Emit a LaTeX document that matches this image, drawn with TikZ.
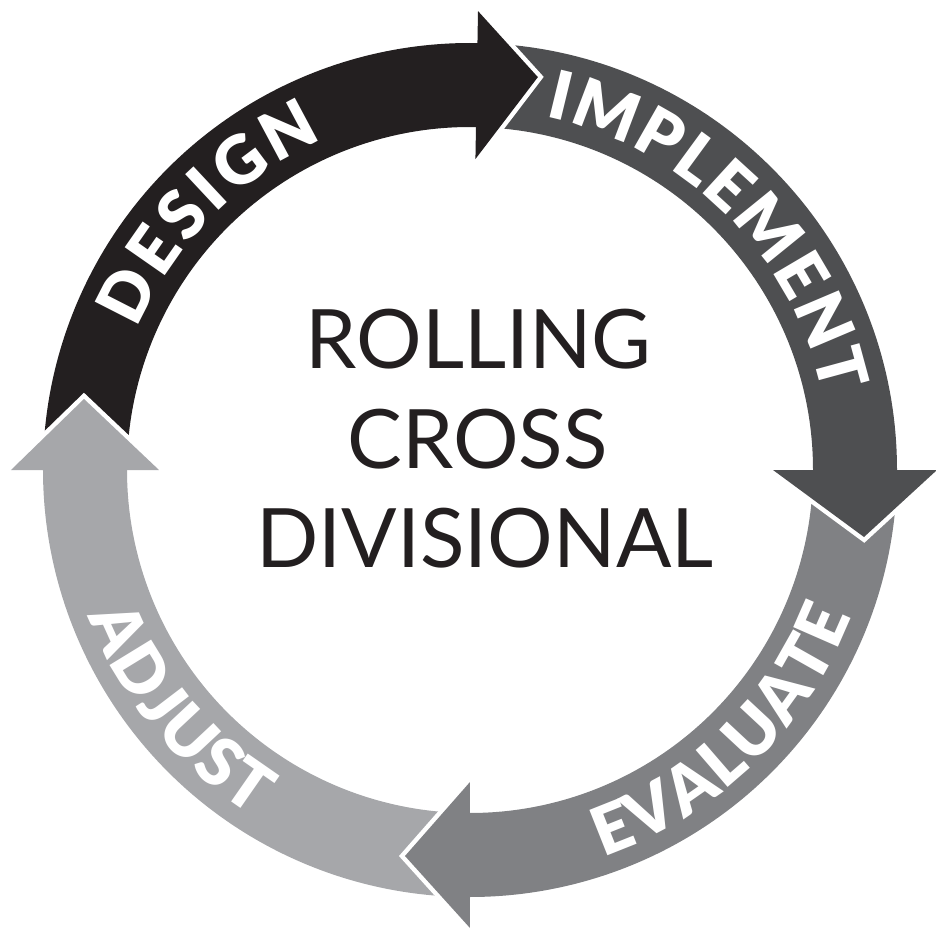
\documentclass[tikz,border=0pt]{standalone}
\usepackage{fontspec}
\usetikzlibrary{calc,decorations.text}
\newfontfamily\ringfont{Lato Black}
\newfontfamily\titlefont{Lato}
\definecolor{designgrey}{HTML}{231F20}
\definecolor{implementgrey}{HTML}{4E4F51}
\definecolor{evaluategrey}{HTML}{808184}
\definecolor{adjustgrey}{HTML}{A6A7AA}

\begin{document}
\begin{tikzpicture}[x=1pt,y=1pt,
  title/.style={text=designgrey,font=\titlefont\fontsize{82}{82}\selectfont,inner sep=0pt,anchor=base},
  ringword/.style={decorate,decoration={text along path,text align={fit to path},text color=white,text={#1}}}]
\useasboundingbox (-470,-473) rectangle (466,470);
% ring
\foreach \col/\base/\prev in {adjustgrey/180/270, designgrey/89/180, implementgrey/0/89, evaluategrey/-90/0}
  \fill[\col] (\prev-1:427) arc[start angle=\prev-1,end angle=\base-2,radius=427]
    -- (\base-2:343) arc[start angle=\base-2,end angle=\prev-1,radius=343] -- cycle;
% heads
\foreach \col/\base/\wd/\len/\off in {designgrey/89/74/61/9, implementgrey/0/82/67/9, evaluategrey/-90/73/65/1, adjustgrey/180/74/71/1} {
  \coordinate (wout) at (\base:385+\wd);
  \coordinate (win) at (\base:385-\wd);
  \coordinate (tip) at ($(\base:385+\off)+(\base-90:\len)$);
  \draw[white,line width=9pt,line join=miter] (wout) -- (tip) -- (win);
  \fill[\col] (wout) -- (tip) -- (win) -- cycle;
}
% words on the ring
\path[ringword={|\ringfont\fontsize{67}{67}\selectfont|DESIGN}] (157:361) arc[start angle=157,end angle=114,radius=361];
\path[ringword={|\ringfont\fontsize{67}{67}\selectfont|IMPLEMENT}] (78:361) arc[start angle=78,end angle=12,radius=361];
\path[ringword={|\ringfont\fontsize{67}{67}\selectfont|EVALUATE}] (-71:409) arc[start angle=-71,end angle=-21,radius=409];
\path[ringword={|\ringfont\fontsize{67}{67}\selectfont|ADJUST}] (201:409) arc[start angle=201,end angle=238,radius=409];
% centre
\node[title] (rolling) at (8.5,102) {ROLLING};
\node[title] (cross) at (7.5,2) {CROSS};
\node[title] (divisional) at (15,-97) {DIVISIONAL};
\end{tikzpicture}
\end{document}
